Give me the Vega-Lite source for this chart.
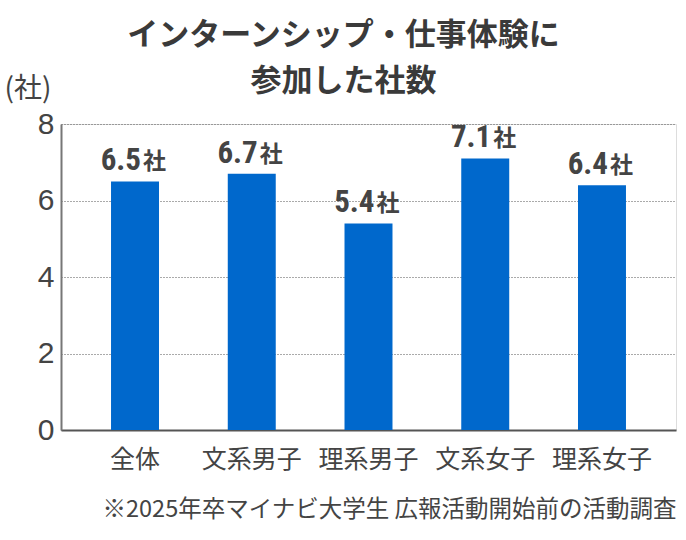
{
  "$schema": "https://vega.github.io/schema/vega-lite/v6.json",
  "width": 615,
  "height": 306,
  "autosize": "none",
  "padding": {"left": 61, "top": 124, "right": 10, "bottom": 110},
  "background": "white",
  "title": {
    "text": ["インターンシップ・仕事体験に", "参加した社数"],
    "font": "Noto Sans CJK JP",
    "fontSize": 31,
    "fontWeight": "bold",
    "color": "#3a3a3a",
    "lineHeight": 46,
    "anchor": "middle",
    "dx": -25,
    "dy": 4,
    "offset": -19
  },
  "data": {
    "values": [
      {"group": "全体", "value": 6.5},
      {"group": "文系男子", "value": 6.7},
      {"group": "理系男子", "value": 5.4},
      {"group": "文系女子", "value": 7.1},
      {"group": "理系女子", "value": 6.4}
    ]
  },
  "encoding": {
    "x": {
      "field": "group",
      "type": "nominal",
      "sort": null,
      "scale": {"paddingInner": 0.589, "paddingOuter": 0.4285},
      "axis": {
        "title": "※2025年卒マイナビ大学生 広報活動開始前の活動調査",
        "titleFont": "Noto Sans CJK JP",
        "titleFontSize": 23.5,
        "titleFontWeight": "normal",
        "titleColor": "#444444",
        "titleAnchor": "end",
        "titleAlign": "right",
        "titleBaseline": "alphabetic",
        "titleX": 615,
        "titleY": 86,
        "labelAngle": 0,
        "labelFont": "Noto Sans CJK JP",
        "labelFontSize": 25,
        "labelColor": "#444444",
        "labelPadding": 17,
        "ticks": false,
        "domainColor": "#555555",
        "domainWidth": 2,
        "grid": false
      }
    },
    "y": {
      "field": "value",
      "type": "quantitative",
      "scale": {"domain": [0, 8]},
      "axis": {
        "values": [0, 2, 4, 6, 8],
        "title": "(社)",
        "titleFont": "Noto Sans CJK JP",
        "titleFontSize": 28,
        "titleFontWeight": "normal",
        "titleColor": "#444444",
        "titleAngle": 0,
        "titleAlign": "left",
        "titleBaseline": "alphabetic",
        "titleX": -57,
        "titleY": -27,
        "labelFont": "Liberation Sans",
        "labelFontSize": 30,
        "labelColor": "#444444",
        "labelPadding": 7,
        "ticks": false,
        "domainColor": "#777777",
        "domainWidth": 2,
        "grid": true,
        "gridColor": "#555555",
        "gridDash": [1, 2],
        "gridWidth": 1
      }
    }
  },
  "layer": [
    {"mark": {"type": "bar", "color": "#0068CC"}},
    {
      "mark": {
        "type": "text",
        "align": "right",
        "baseline": "alphabetic",
        "dx": 6,
        "dy": -11,
        "font": "Liberation Sans Narrow, Roboto Condensed, DejaVu Sans Condensed, sans-serif",
        "fontSize": 31,
        "fontWeight": "bold",
        "color": "#444444"
      },
      "encoding": {"text": {"field": "value", "type": "quantitative", "format": ".1f"}}
    },
    {
      "mark": {
        "type": "text",
        "align": "left",
        "baseline": "alphabetic",
        "dx": 8,
        "dy": -12,
        "font": "Noto Sans CJK JP",
        "fontSize": 23,
        "fontWeight": "bold",
        "color": "#444444"
      },
      "encoding": {"text": {"value": "社"}}
    }
  ]
}
